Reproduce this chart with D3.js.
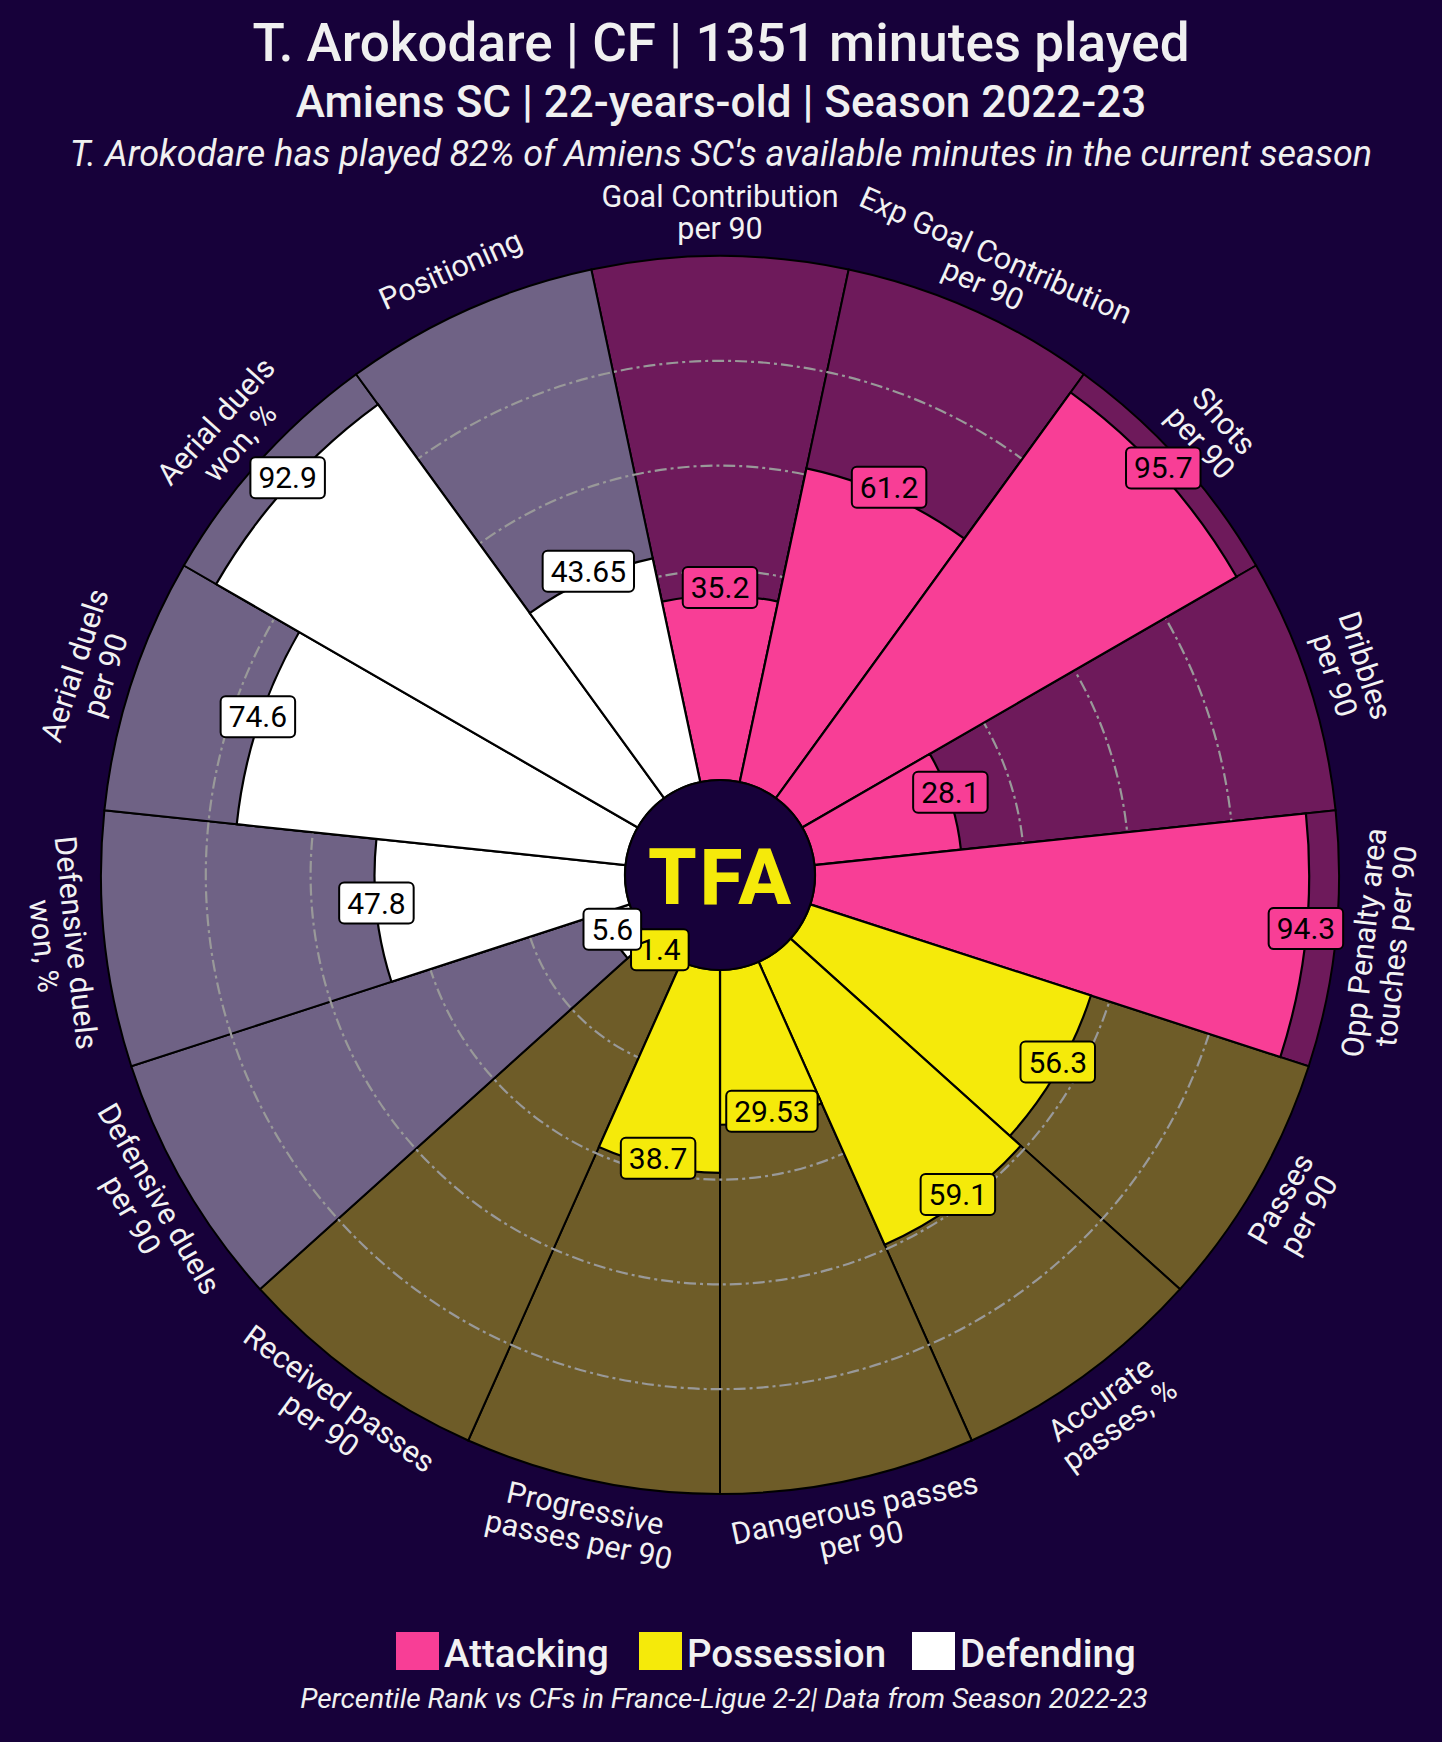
<!DOCTYPE html>
<html>
<head>
<meta charset="utf-8">
<script src="https://cdn.jsdelivr.net/npm/d3@7"></script>
<style>
  html, body { margin: 0; padding: 0; background: #17013A; }
  svg { display: block; }
  text { font-family: Roboto, "Noto Sans", sans-serif; }
</style>
</head>
<body>
<div id="chart"></div>
<script>
// ---- data ----
const params = [
  "Goal Contribution\nper 90",
  "Exp Goal Contribution\nper 90",
  "Shots\nper 90",
  "Dribbles\nper 90",
  "Opp Penalty area\ntouches per 90",
  "Passes\nper 90",
  "Accurate\npasses, %",
  "Dangerous passes\nper 90",
  "Progressive\npasses per 90",
  "Received passes\nper 90",
  "Defensive duels\nper 90",
  "Defensive duels\nwon, %",
  "Aerial duels\nper 90",
  "Aerial duels\nwon, %",
  "Positioning"
];
const values = [35.2, 61.2, 95.7, 28.1, 94.3, 56.3, 59.1, 29.53, 38.7, 1.4, 5.6, 47.8, 74.6, 92.9, 43.65];
const groups = ["Attacking","Attacking","Attacking","Attacking","Attacking",
                "Possession","Possession","Possession","Possession","Possession",
                "Defending","Defending","Defending","Defending","Defending"];
const legendGroups = ["Attacking", "Possession", "Defending"];
const gridTicks = [20, 40, 60, 80];

const title = "T. Arokodare | CF | 1351 minutes played";
const subtitle = "Amiens SC | 22-years-old | Season 2022-23";
const subtitle2 = "T. Arokodare has played 82% of Amiens SC's available minutes in the current season";
const footer = "Percentile Rank vs CFs in France-Ligue 2-2| Data from Season 2022-23";

// ---- styles ----
const W = 1442, H = 1742;
const BG = "#17013A";
const barColor = d3.scaleOrdinal().domain(legendGroups).range(["#F83E96", "#F5EA0A", "#FFFFFF"]);
const bgColor = d3.scaleOrdinal().domain(legendGroups).range(["#6E1A5B", "#6E5C28", "#6F6285"]);
const cx = 720, cy = 875;
const r = d3.scaleLinear().domain([0, 100]).range([95, 619]);
const n = params.length;
const step = 2 * Math.PI / n;
const ang = d3.scaleBand().domain(d3.range(n)).range([-step / 2, 2 * Math.PI - step / 2]);

const svg = d3.select("#chart").append("svg").attr("width", W).attr("height", H);
svg.append("rect").attr("width", W).attr("height", H).attr("fill", BG);

// titles
svg.append("text").attr("x", 721).attr("y", 61).attr("text-anchor", "middle")
  .attr("font-size", 53).attr("font-weight", 500).attr("fill", "#F0F0F0").text(title);
svg.append("text").attr("x", 721).attr("y", 117).attr("text-anchor", "middle")
  .attr("font-size", 44).attr("font-weight", 500).attr("fill", "#F0F0F0").text(subtitle);
svg.append("text").attr("x", 721).attr("y", 166).attr("text-anchor", "middle")
  .attr("font-size", 36).attr("font-style", "italic").attr("fill", "#F0F0F0").text(subtitle2);

const g = svg.append("g").attr("transform", `translate(${cx},${cy})`);

// background slices
const bgArc = d3.arc().innerRadius(r(0)).outerRadius(r(100))
  .startAngle(i => ang(i)).endAngle(i => ang(i) + ang.bandwidth());
g.selectAll("path.bg").data(d3.range(n)).join("path").attr("class", "bg")
  .attr("d", bgArc).attr("fill", i => bgColor(groups[i]))
  .attr("stroke", "#000").attr("stroke-width", 2);

// grid circles
g.selectAll("circle.grid").data(gridTicks).join("circle").attr("class", "grid")
  .attr("r", d => r(d)).attr("fill", "none").attr("stroke", "#999999")
  .attr("stroke-width", 2.2).attr("stroke-dasharray", "12,4,3,4");

// bars
const barArc = d3.arc().innerRadius(r(0)).outerRadius(i => r(values[i]))
  .startAngle(i => ang(i)).endAngle(i => ang(i) + ang.bandwidth());
g.selectAll("path.bar").data(d3.range(n)).join("path").attr("class", "bar")
  .attr("d", barArc).attr("fill", i => barColor(groups[i]))
  .attr("stroke", "#000").attr("stroke-width", 2.2);

// center circle + logo
g.append("circle").attr("r", r(0)).attr("fill", BG).attr("stroke", "#000").attr("stroke-width", 2);
g.append("text").attr("x", 1).attr("y", 29).attr("text-anchor", "middle")
  .attr("font-family", "Inter, Roboto, sans-serif").attr("font-weight", 800)
  .attr("font-size", 78).attr("letter-spacing", 3).attr("fill", "#F5EA0A").text("TFA");

// value labels
const vl = g.selectAll("g.vl").data(d3.range(n)).join("g").attr("class", "vl")
  .attr("transform", i => {
    const a = ang(i) + ang.bandwidth() / 2, rr = r(values[i]);
    return `translate(${rr * Math.sin(a)},${-rr * Math.cos(a) - 8})`;
  });
vl.append("rect");
vl.append("text").attr("text-anchor", "middle").attr("y", 10.5)
  .attr("font-size", 30).attr("fill", "#000").text(i => String(values[i]));
vl.each(function() {
  const t = d3.select(this).select("text").node();
  const w = t.getComputedTextLength() + 16;
  d3.select(this).select("rect").attr("x", -w / 2).attr("y", -20.5).attr("width", w).attr("height", 41)
    .attr("rx", 5).attr("fill", i => barColor(groups[i])).attr("stroke", "#000").attr("stroke-width", 2);
});

// param labels
const labelR = 663, lineH = 32, capHalf = 11;
const pl = g.selectAll("text.param").data(d3.range(n)).join("text").attr("class", "param")
  .attr("font-size", 30.5).attr("fill", "#F2F2F2").attr("text-anchor", "middle")
  .attr("transform", i => {
    const a = ang(i) + ang.bandwidth() / 2;
    let deg = a * 180 / Math.PI;
    let rot = (deg > 90 && deg < 270) ? deg - 180 : (deg >= 270 ? deg - 360 : deg);
    return `translate(${labelR * Math.sin(a)},${-labelR * Math.cos(a)}) rotate(${rot})`;
  });
pl.each(function(i) {
  const lines = params[i].split("\n");
  const t = d3.select(this);
  lines.forEach((ln, k) => {
    const off = (k - (lines.length - 1) / 2) * lineH + capHalf;
    t.append("tspan").attr("x", 0).attr("y", off).text(ln);
  });
});

// legend
const legX = [396, 639, 912];
const leg = svg.selectAll("g.leg").data(legendGroups).join("g").attr("class", "leg")
  .attr("transform", (d, k) => `translate(${legX[k]},1632)`);
leg.append("rect").attr("width", 43).attr("height", 38).attr("fill", d => barColor(d));
leg.append("text").attr("x", 48).attr("y", 35).attr("font-size", 38.5).attr("font-weight", 500)
  .attr("fill", "#F2F2F2").text(d => d);

// footer
svg.append("text").attr("x", 724).attr("y", 1708).attr("text-anchor", "middle")
  .attr("font-size", 28).attr("font-style", "italic").attr("fill", "#F0F0F0").text(footer);
</script>
</body>
</html>
